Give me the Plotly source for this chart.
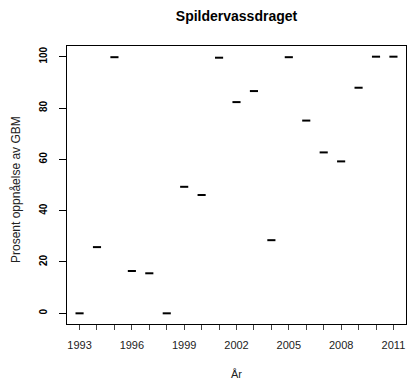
import plotly.graph_objects as go

years = list(range(1993, 2012))
values = [0, 25.8, 99.8, 16.5, 15.6, 0, 49.3, 46.1, 99.6, 82.3, 86.6, 28.5,
          99.8, 75.1, 62.7, 59.2, 87.9, 100, 100]
x_tick_labels = [str(y) if (y - 1993) % 3 == 0 else "" for y in years]
y_ticks = [0, 20, 40, 60, 80, 100]

W, H = 408, 380
L, R, T, B = 67, 2, 46, 56
FONT = "Liberation Sans, Arial, Helvetica, sans-serif"
pw = W - L - R
ph = H - T - B
cx = ((L + (W - R)) / 2 - L) / pw

fig = go.Figure()
fig.add_trace(go.Scatter(
    x=years, y=values, mode="markers",
    marker=dict(symbol="line-ew", size=5.8, color="black",
                line=dict(width=2, color="black")),
    showlegend=False, hoverinfo="x+y"))

fig.update_layout(
    width=W, height=H,
    margin=dict(l=L, r=R, t=T, b=B),
    paper_bgcolor="white", plot_bgcolor="white",
    font=dict(family=FONT, color="black"),
    title=dict(text="<b>Spildervassdraget</b>", x=(L + (W - R)) / 2 / W, xanchor="center",
               xref="container", y=1 - 16 / H, yanchor="middle", yref="container",
               font=dict(size=14, family=FONT, color="black")),
    xaxis=dict(range=[1992.28, 2011.72], tickmode="array", tickvals=years,
               ticktext=x_tick_labels, ticks="outside", ticklen=5, tickwidth=1,
               tickcolor="#444", showgrid=False, zeroline=False,
               showline=True, linecolor="black", linewidth=1, mirror=True,
               tickfont=dict(size=11, color="#222", family=FONT),
               ticklabelstandoff=6),
    yaxis=dict(range=[-4.16, 104.16], tickmode="array", tickvals=y_ticks,
               ticktext=["<b>%d</b>" % v for v in y_ticks],
               ticks="outside", ticklen=7, tickwidth=1, tickcolor="black",
               showgrid=False, zeroline=False, tickangle=-90,
               showline=True, linecolor="black", linewidth=1, mirror=True,
               tickfont=dict(size=10, color="black", family=FONT),
               ticklabelstandoff=8),
    annotations=[
        dict(text="År", x=cx, y=(H - B - 374) / ph, xref="paper", yref="paper",
             showarrow=False, font=dict(size=11, family=FONT, color="#222"),
             xanchor="center", yanchor="middle"),
        dict(text="Prosent oppnåelse av GBM", x=(16 - L) / pw, y=(H - B - 189) / ph,
             xref="paper", yref="paper",
             showarrow=False, textangle=-90, font=dict(size=12, family=FONT, color="#222"),
             xanchor="center", yanchor="middle"),
    ],
)

fig.write_html("out.html", config={"displayModeBar": False},
               post_script="document.body.style.margin='0';document.body.style.padding='0';")
